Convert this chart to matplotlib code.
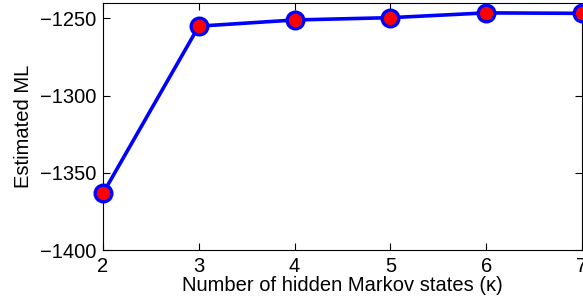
import matplotlib
matplotlib.use("Agg")
import matplotlib.pyplot as plt

# states vs estimated marginal likelihood
n_states = [2, 3, 4, 5, 6, 7]
est_ml = [-1363.3, -1255.0, -1251.0, -1249.5, -1246.4, -1246.7]

plt.rcParams['font.family'] = ['Liberation Sans', 'DejaVu Sans']

fig = plt.figure(figsize=(5.83, 3.05), dpi=100)
ax = fig.add_axes([103 / 583, 55 / 305, 479 / 583, 247 / 305])
ax.plot(n_states, est_ml, "-o", color="#0000ff", lw=2.6,
        markersize=12, markerfacecolor="#ff0000", markeredgecolor="#0000ff",
        markeredgewidth=2.4, clip_on=False, zorder=3)
ax.set_xlim(2, 7)
ax.set_ylim(-1400, -1240)
ax.set_xticks(n_states)
ax.set_yticks([-1400, -1350, -1300, -1250])
ax.tick_params(direction="in", top=True, right=True, length=5, labelsize=14.5, pad=5)
ax.set_xlabel("Number of hidden Markov states (κ)", fontsize=14.5, labelpad=0)
ax.set_ylabel("Estimated ML", fontsize=14.5, labelpad=5)
for s in ax.spines.values():
    s.set_linewidth(0.8)

fig.savefig("out.png", dpi=100)
